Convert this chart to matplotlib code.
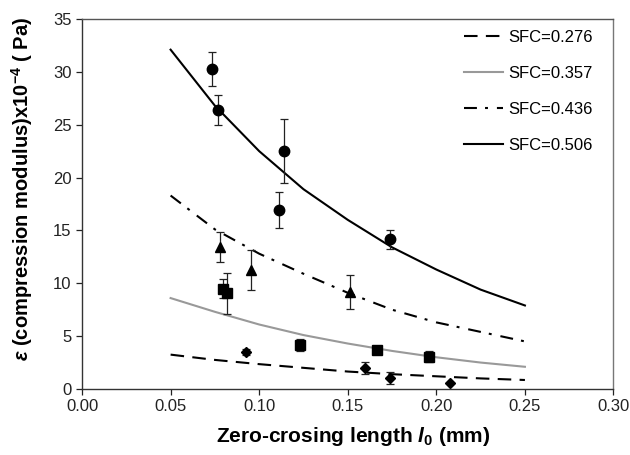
import numpy as np
import matplotlib
matplotlib.use("Agg")
import matplotlib.pyplot as plt

plt.rcParams['font.family'] = ['Liberation Sans', 'DejaVu Sans']
plt.rcParams['mathtext.fontset'] = 'custom'
plt.rcParams['mathtext.rm'] = 'Liberation Sans:bold'
plt.rcParams['mathtext.it'] = 'Liberation Sans:italic:bold'
plt.rcParams['mathtext.default'] = 'regular'

#%%
# fitted curves
fit_x = [0.05, 0.075, 0.10, 0.125, 0.15, 0.175, 0.20, 0.225, 0.25]
fit_276 = [3.25, 2.75, 2.35, 2.0, 1.65, 1.4, 1.2, 1.0, 0.85]
fit_357 = [8.6, 7.3, 6.1, 5.1, 4.3, 3.6, 3.0, 2.5, 2.1]
fit_436 = [18.3, 15.1, 12.8, 10.9, 9.1, 7.5, 6.3, 5.4, 4.5]
fit_506 = [32.1, 26.8, 22.5, 18.9, 16.0, 13.4, 11.3, 9.4, 7.9]

# measured points with error bars
x_276 = [0.0927, 0.1597, 0.174, 0.2079]
y_276 = [3.5, 1.95, 1.04, 0.6]
e_276 = [0.3, 0.58, 0.6, 0.0]

x_357 = [0.0795, 0.0819, 0.1232, 0.1665, 0.196]
y_357 = [9.46, 9.05, 4.16, 3.66, 3.06]
e_357 = [0.9, 1.95, 0.58, 0.2, 0.5]

x_436 = [0.078, 0.0953, 0.1514]
y_436 = [13.46, 11.26, 9.2]
e_436 = [1.4, 1.9, 1.6]

x_506 = [0.0733, 0.077, 0.1141, 0.1113, 0.174]
y_506 = [30.27, 26.37, 22.5, 16.96, 14.16]
e_506 = [1.65, 1.4, 3.05, 1.7, 0.9]

labels = ['SFC=0.276', 'SFC=0.357', 'SFC=0.436', 'SFC=0.506']

#%%
fig = plt.figure(figsize=(6.3, 4.55), dpi=100)
ax = fig.add_axes([0.1302, 0.1451, 0.8436, 0.8131])

lw = 1.5
ax.plot(fit_x, fit_276, color='black', lw=lw, linestyle=(0, (6.5, 4)), label=labels[0])
ax.plot(fit_x, fit_357, color='#999999', lw=lw, label=labels[1])
ax.plot(fit_x, fit_436, color='black', lw=lw, linestyle=(0, (6.2, 3.9, 1.4, 4.3)), label=labels[2])
ax.plot(fit_x, fit_506, color='black', lw=lw, label=labels[3])

eb = dict(ecolor='#222222', elinewidth=0.9, capsize=3, capthick=0.9, linestyle='none', color='black')
ax.errorbar(x_276, y_276, yerr=e_276, marker='D', markersize=5.5, **eb)
ax.errorbar(x_357, y_357, yerr=e_357, marker='s', markersize=6.5, **eb)
ax.errorbar(x_436, y_436, yerr=e_436, marker='^', markersize=7.5, **eb)
ax.errorbar(x_506, y_506, yerr=e_506, marker='o', markersize=7.5, **eb)

ax.set_xlim(0, 0.30)
ax.set_ylim(0, 35)
ax.set_xticks(np.arange(0, 0.301, 0.05))
ax.set_xticklabels(['%.2f' % v for v in np.arange(0, 0.301, 0.05)])
ax.set_yticks(range(0, 36, 5))
ax.tick_params(direction='out', length=4, width=0.9, labelsize=12, colors='#222222')

for s in ['left', 'bottom']:
    ax.spines[s].set_color('#333333')
    ax.spines[s].set_linewidth(1.0)
ax.spines['top'].set_color('#555555')
ax.spines['right'].set_color('#777777')
ax.spines['top'].set_linewidth(1.0)
ax.spines['right'].set_linewidth(1.0)

ax.set_xlabel(r'Zero-crosing length $\mathit{l}_{0}$ (mm)', fontsize=15, fontweight='bold')
ax.set_ylabel(r'$\mathit{\varepsilon}$ (compression modulus)x10$^{-4}$ ( Pa)', fontsize=14.5, fontweight='bold')
ax.xaxis.set_label_coords(0.51, -0.098)
ax.yaxis.set_label_coords(-0.088, 0.54)

leg = ax.legend(loc='upper left', bbox_to_anchor=(0.69, 1.01), frameon=False, fontsize=12,
                handlelength=2.35, handletextpad=0.3, labelspacing=1.25)

fig.savefig('out.png', dpi=100)
